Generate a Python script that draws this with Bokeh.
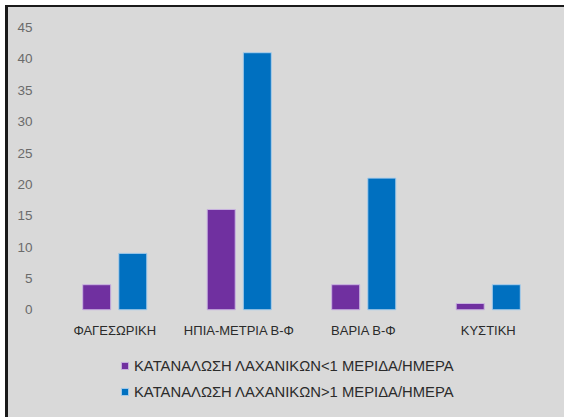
from bokeh.plotting import figure
from bokeh.models import FactorRange, Legend, LegendItem, ColumnDataSource
from bokeh.transform import dodge
from bokeh.embed import file_html
from bokeh.resources import INLINE
from bokeh.core.properties import value

categories = ["ΦΑΓΕΣΩΡΙΚΗ", "ΗΠΙΑ-ΜΕΤΡΙΑ Β-Φ", "ΒΑΡΙΑ Β-Φ", "ΚΥΣΤΙΚΗ"]
series_names = ["ΚΑΤΑΝΑΛΩΣΗ ΛΑΧΑΝΙΚΩΝ<1 ΜΕΡΙΔΑ/ΗΜΕΡΑ",
                "ΚΑΤΑΝΑΛΩΣΗ ΛΑΧΑΝΙΚΩΝ>1 ΜΕΡΙΔΑ/ΗΜΕΡΑ"]
less_than_one = [4, 16, 4, 1]
more_than_one = [9, 41, 21, 4]
y_ticks = [0, 5, 10, 15, 20, 25, 30, 35, 40, 45]

src = ColumnDataSource(dict(cat=categories, a=less_than_one, b=more_than_one,
                            base=[0] * len(categories)))

FONT = "Liberation Sans"
BG = "#d9d9d9"

p = figure(x_range=FactorRange(*categories, range_padding=0), y_range=(-17.5, 45.5),
           width=559, height=412, output_backend="svg", toolbar_location=None,
           background_fill_color=None, border_fill_color=None,
           min_border_left=44, min_border_right=17, min_border_top=17, min_border_bottom=0)
p.styles = {"border-top": "2px solid #1a1a1a", "border-left": "3px solid #1a1a1a",
            "margin-left": "5px", "margin-top": "5px", "background-color": BG}
p.outline_line_color = None
p.xgrid.grid_line_color = None
p.ygrid.grid_line_color = None
p.xaxis.visible = False

r1 = p.vbar(x=dodge("cat", -0.145, range=p.x_range), top="a", width=0.225, source=src,
            fill_color="#7030a0", line_color="#c9b3e0", line_width=1)
r2 = p.vbar(x=dodge("cat", 0.145, range=p.x_range), top="b", width=0.225, source=src,
            fill_color="#0070c0", line_color="#a9cdea", line_width=1)

# category labels under the bars
p.text(x="cat", y="base", text="cat", source=src, y_offset=21,
       text_align="center", text_baseline="middle",
       text_font=value(FONT), text_font_size="13px", text_color="#2b2b2b")

p.yaxis.ticker = y_ticks
p.yaxis.axis_line_color = None
p.yaxis.major_tick_line_color = None
p.yaxis.minor_tick_line_color = None
p.yaxis.major_label_text_color = "#6b6b6b"
p.yaxis.major_label_text_font = FONT
p.yaxis.major_label_text_font_size = "13.5px"
p.yaxis.major_label_standoff = 14

legend = Legend(items=[LegendItem(label=series_names[0], renderers=[r1]),
                       LegendItem(label=series_names[1], renderers=[r2])],
                location=(68, 19), orientation="vertical",
                background_fill_alpha=0, border_line_color=None,
                label_text_font=FONT, label_text_font_size="14.8px",
                label_text_color="#2b2b2b", glyph_width=9, glyph_height=9,
                label_height=17, spacing=9, padding=4, margin=0, label_standoff=5)
p.add_layout(legend, "center")

open("out.html", "w").write(file_html(p, INLINE))
